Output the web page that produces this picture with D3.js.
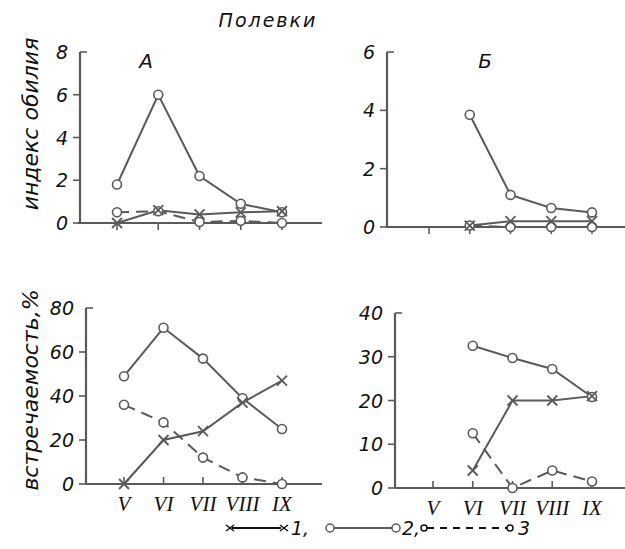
<!DOCTYPE html>
<html>
<head>
<meta charset="utf-8">
<script src="https://cdn.jsdelivr.net/npm/d3@7"></script>
<style>
  body { margin: 0; background: #fff; }
  .lab { font-family: "DejaVu Sans", sans-serif; font-style: italic; fill: #111; }
  .roman { font-family: "Liberation Serif", serif; font-style: italic; fill: #111; }
</style>
</head>
<body>
<script>
var width = 625,
    height = 549;

var months = ["V", "VI", "VII", "VIII", "IX"];

// индекс обилия
var abundA1 = [0, 0.6, 0.4, 0.5, 0.55],
    abundA2 = [1.8, 6.0, 2.2, 0.9, 0.5],
    abundA3 = [0.5, 0.55, 0.05, 0.1, 0];
var abundB1 = [null, 0.05, 0.2, 0.2, 0.2],
    abundB2 = [null, 3.85, 1.1, 0.65, 0.5],
    abundB3 = [null, 0.05, 0, 0, 0];

// встречаемость, %
var freqA1 = [0, 20, 24, 37, 47],
    freqA2 = [49, 71, 57, 39, 25],
    freqA3 = [36, 28, 12, 3, 0];
var freqB1 = [null, 4, 20, 20, 21],
    freqB2 = [null, 32.5, 29.7, 27.2, 20.8],
    freqB3 = [null, 12.5, 0, 4, 1.5];

var ticksA = [0, 2, 4, 6, 8],
    ticksB = [0, 2, 4, 6],
    ticksFA = [0, 20, 40, 60, 80],
    ticksFB = [0, 10, 20, 30, 40];

var ink = "#5a5a5a";

var svg = d3.select("body").append("svg")
    .attr("width", width)
    .attr("height", height);

var panels = [
  {s: [abundA1, abundA2, abundA3], ticks: ticksA, xr: [117, 282], yr: [223, 52], ax: [78, 322], yAxis: 80, top: true, letter: "А", lx: 146},
  {s: [abundB1, abundB2, abundB3], ticks: ticksB, xr: [429, 592], yr: [227, 52], ax: [386, 625], yAxis: 387, top: true, letter: "Б", lx: 485},
  {s: [freqA1, freqA2, freqA3], ticks: ticksFA, xr: [124, 282], yr: [484, 308], ax: [86, 322], yAxis: 86, top: false},
  {s: [freqB1, freqB2, freqB3], ticks: ticksFB, xr: [433, 592], yr: [488, 313], ax: [395, 625], yAxis: 395, top: false}
];

panels.forEach(function(p) {
  var x = d3.scalePoint().domain(months).range(p.xr);
  var y = d3.scaleLinear().domain([0, d3.max(p.ticks)]).range(p.yr);
  var g = svg.append("g");

  // axes
  g.append("line")
      .attr("x1", p.ax[0]).attr("x2", p.ax[1])
      .attr("y1", y(0)).attr("y2", y(0))
      .attr("stroke", ink).attr("stroke-width", 2.2);
  g.append("line")
      .attr("x1", p.yAxis).attr("x2", p.yAxis)
      .attr("y1", y(0)).attr("y2", y(d3.max(p.ticks)))
      .attr("stroke", ink).attr("stroke-width", 2.2);

  p.ticks.forEach(function(t, i) {
    var last = i == p.ticks.length - 1;
    g.append("line")
        .attr("x1", last ? p.yAxis : p.yAxis - 7)
        .attr("x2", last ? p.yAxis + 7 : p.yAxis)
        .attr("y1", y(t)).attr("y2", y(t))
        .attr("stroke", ink).attr("stroke-width", 1.6);
    g.append("text")
        .attr("class", "lab")
        .attr("x", p.yAxis - 12)
        .attr("y", y(t) + 7)
        .attr("text-anchor", "end")
        .attr("font-size", 19)
        .text(t);
  });

  months.forEach(function(m) {
    g.append("line")
        .attr("x1", x(m)).attr("x2", x(m))
        .attr("y1", y(0)).attr("y2", p.top ? y(0) + 7 : y(0) - 7)
        .attr("stroke", ink).attr("stroke-width", 1.6);
    if (!p.top) {
      g.append("text")
          .attr("class", "roman")
          .attr("x", x(m))
          .attr("y", y(0) + 27)
          .attr("text-anchor", "middle")
          .attr("font-size", 21)
          .text(m);
    }
  });

  if (p.letter) {
    g.append("text")
        .attr("class", "lab")
        .attr("x", p.lx).attr("y", 68)
        .attr("text-anchor", "middle")
        .attr("font-size", 20)
        .text(p.letter);
  }

  var line = d3.line()
      .defined(function(d) { return d != null; })
      .x(function(d, i) { return x(months[i]); })
      .y(function(d) { return y(d); });

  p.s.forEach(function(vals, k) {
    g.append("path")
        .attr("d", line(vals))
        .attr("fill", "none")
        .attr("stroke", ink)
        .attr("stroke-width", 2)
        .attr("stroke-dasharray", k == 2 ? "12,7" : null);
  });

  // markers: series 1 crosses, series 2 and 3 circles
  [1, 2, 0].forEach(function(k) {
    p.s[k].forEach(function(v, i) {
      if (v == null) return;
      var cx = x(months[i]), cy = y(v);
      if (k == 0) {
        g.append("path")
            .attr("d", "M" + (cx - 5) + "," + (cy - 5) + "L" + (cx + 5) + "," + (cy + 5) +
                       "M" + (cx - 5) + "," + (cy + 5) + "L" + (cx + 5) + "," + (cy - 5))
            .attr("stroke", ink).attr("stroke-width", 1.8);
      } else {
        g.append("circle")
            .attr("cx", cx).attr("cy", cy).attr("r", 4.5)
            .attr("fill", "#fff")
            .attr("stroke", ink).attr("stroke-width", 1.6);
      }
    });
  });
});

// titles
svg.append("text")
    .attr("class", "lab")
    .attr("x", 268).attr("y", 27)
    .attr("text-anchor", "middle")
    .attr("font-size", 19)
    .attr("letter-spacing", 2)
    .text("Полевки");

svg.append("text")
    .attr("class", "lab")
    .attr("transform", "translate(38,124) rotate(-90)")
    .attr("text-anchor", "middle")
    .attr("font-size", 22)
    .text("индекс обилия");

svg.append("text")
    .attr("class", "lab")
    .attr("transform", "translate(38,390) rotate(-90)")
    .attr("text-anchor", "middle")
    .attr("font-size", 22)
    .text("встречаемость,%");

// legend
var lg = svg.append("g").attr("transform", "translate(0,528)");
lg.append("line").attr("x1", 232).attr("x2", 281).attr("y1", 0).attr("y2", 0)
    .attr("stroke", "#111").attr("stroke-width", 2);
[230, 284].forEach(function(cx) {
  lg.append("path")
      .attr("d", "M" + (cx - 4) + ",-3L" + (cx + 4) + ",3M" + (cx - 4) + ",3L" + (cx + 4) + ",-3")
      .attr("stroke", "#111").attr("stroke-width", 1.5);
});
lg.append("text").attr("class", "lab").attr("x", 291).attr("y", 7)
    .attr("font-size", 19).text("1,");

lg.append("line").attr("x1", 333).attr("x2", 393).attr("y1", 0).attr("y2", 0)
    .attr("stroke", ink).attr("stroke-width", 2);
[330, 396].forEach(function(cx) {
  lg.append("circle").attr("cx", cx).attr("cy", 0).attr("r", 4)
      .attr("fill", "#fff").attr("stroke", ink).attr("stroke-width", 1.5);
});
lg.append("text").attr("class", "lab").attr("x", 402).attr("y", 7)
    .attr("font-size", 19).text("2,");

lg.append("line").attr("x1", 427).attr("x2", 507).attr("y1", 0).attr("y2", 0)
    .attr("stroke", "#111").attr("stroke-width", 2).attr("stroke-dasharray", "7,6");
[424, 510].forEach(function(cx) {
  lg.append("circle").attr("cx", cx).attr("cy", 0).attr("r", 3)
      .attr("fill", "#fff").attr("stroke", "#111").attr("stroke-width", 1.5);
});
lg.append("text").attr("class", "lab").attr("x", 518).attr("y", 7)
    .attr("font-size", 19).text("3");
</script>
</body>
</html>
